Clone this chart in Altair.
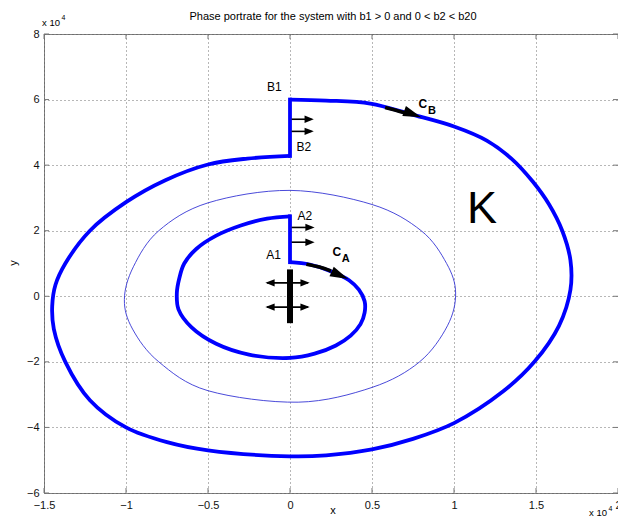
import altair as alt
import pandas as pd

TITLE = "Phase portrate for the system with b1 > 0 and 0 < b2 < b20"
X_TICKS = [-1.5, -1, -0.5, 0, 0.5, 1, 1.5, 2]
Y_TICKS = [-6, -4, -2, 0, 2, 4, 6, 8]
FONT = "Liberation Sans"

# trajectories, values in units of 10^4
outer_x = [0, 0.22, 0.49, 0.74, 1.0, 1.2, 1.35, 1.48, 1.58, 1.66, 1.71, 1.71, 1.64, 1.49, 1.3, 1.0,
           0.75, 0.5, 0.22, 0, -0.5, -0.75, -1.0, -1.22, -1.37, -1.44, -1.45, -1.43, -1.37, -1.22, -1.0,
           -0.76, -0.5, -0.26, 0]
outer_y = [6.0, 5.97, 5.88, 5.55, 5.18, 4.75, 4.2, 3.5, 2.8, 2.0, 1.1, 0.2, -0.9, -2.0, -2.9, -3.87,
           -4.35, -4.67, -4.85, -4.88, -4.7, -4.45, -4.0, -3.17, -2.0, -1.0, -0.3, 0.35, 1.0, 2.0, 2.87,
           3.54, 4.02, 4.2, 4.28]

inner_x = [0, 0.12, 0.24, 0.36, 0.42, 0.455, 0.455, 0.43, 0.37, 0.28, 0.15, 0.0, -0.25, -0.45, -0.6,
           -0.68, -0.69, -0.675, -0.645, -0.57, -0.45, -0.3, -0.14, 0]
inner_y = [1.04, 0.97, 0.78, 0.49, 0.2, -0.15, -0.5, -0.85, -1.2, -1.5, -1.75, -1.88, -1.78, -1.45, -0.95,
           -0.4, 0.1, 0.55, 1.0, 1.45, 1.85, 2.16, 2.37, 2.44]

ell_x = [0, 0.5, 0.8, 0.955, 1.01, 0.96, 0.79, 0.5, 0.05, -0.5, -0.8, -0.96, -1.01, -0.955, -0.8, -0.5]
ell_y = [3.23, 2.8, 2.0, 1.0, 0.1, -0.9, -2.0, -2.78, -3.23, -2.88, -2.0, -1.0, -0.1, 0.9, 2.0, 2.85]

# vertical jumps B2->B1 and A1->A2
jump_x = [0, 0]
jump_y = [4.28, 1.04]
jump_y2 = [6.0, 2.44]

# black arrow shafts along the curves (C_B, C_A)
cb_x = [0.58, 0.64, 0.71]
cb_y = [5.76, 5.68, 5.58]
ca_x = [0.10, 0.18, 0.25]
ca_y = [0.98, 0.89, 0.77]
big_head_x = [0.80, 0.355]
big_head_y = [5.46, 0.53]
big_head_ang = [20, 24]

# small horizontal arrows
sh_x = [0.01, 0.01, 0.01, 0.01, -0.14, -0.14]
sh_x2 = [0.13, 0.13, 0.13, 0.13, 0.11, 0.11]
sh_y = [5.40, 5.03, 2.10, 1.65, 0.41, -0.33]
small_head_x = [0.145, 0.145, 0.15, 0.15, -0.15, 0.12, -0.15, 0.12]
small_head_y = [5.40, 5.03, 2.10, 1.65, 0.41, 0.41, -0.33, -0.33]
small_head_ang = [0, 0, 0, 0, 180, 0, 180, 0]

# black bar at A1
bar_x = [0]
bar_y = [-0.82]
bar_y2 = [0.82]

# point labels
lab_text = ["B1", "B2", "A2", "A1"]
lab_x = [-0.096, 0.084, 0.09, -0.10]
lab_y = [6.37, 4.54, 2.44, 1.27]
sub_main = ["C", "C"]
sub_main_x = [0.81, 0.285]
sub_main_y = [5.88, 1.36]
sub_low = ["B", "A"]
sub_low_x = [0.865, 0.34]
sub_low_y = [5.66, 1.14]
K_text = ["K"]
K_x = [1.17]
K_y = [2.67]

W, H = 574, 459
XS = alt.Scale(domain=[-1.5, 2], nice=False, zero=False)
YS = alt.Scale(domain=[-6, 8], nice=False, zero=False)
XA = alt.Axis(values=X_TICKS, title=None, format="~g", labelPadding=6)
YA = alt.Axis(values=Y_TICKS, title=None, format="~g", labelPadding=5)


def X(f):
    return alt.X(f, type="quantitative", scale=XS, axis=XA)


def Y(f):
    return alt.Y(f, type="quantitative", scale=YS, axis=YA)


BLUE = "#0000ff"

ell_df = pd.DataFrame({"x": ell_x, "y": ell_y, "i": range(len(ell_x))})
ellipse = alt.Chart(ell_df).mark_line(color="#3535d5", strokeWidth=0.9, interpolate="cardinal-closed").encode(
    x=X("x"), y=Y("y"), order="i:Q")

outer_df = pd.DataFrame({"x": outer_x, "y": outer_y, "i": range(len(outer_x))})
outer = alt.Chart(outer_df).mark_line(color=BLUE, strokeWidth=3.8, interpolate="catmull-rom").encode(
    x=X("x"), y=Y("y"), order="i:Q")

inner_df = pd.DataFrame({"x": inner_x, "y": inner_y, "i": range(len(inner_x))})
inner = alt.Chart(inner_df).mark_line(color=BLUE, strokeWidth=3.8, interpolate="catmull-rom").encode(
    x=X("x"), y=Y("y"), order="i:Q")

jump_df = pd.DataFrame({"x": jump_x, "y": jump_y, "y2": jump_y2})
jumps = alt.Chart(jump_df).mark_rule(color=BLUE, strokeWidth=3.8, strokeCap="square").encode(
    x=X("x"), y=Y("y"), y2=alt.Y2("y2"))

cb_df = pd.DataFrame({"x": cb_x, "y": cb_y, "i": range(len(cb_x))})
cb_line = alt.Chart(cb_df).mark_line(color="black", strokeWidth=3.6, interpolate="catmull-rom").encode(
    x=X("x"), y=Y("y"), order="i:Q")
ca_df = pd.DataFrame({"x": ca_x, "y": ca_y, "i": range(len(ca_x))})
ca_line = alt.Chart(ca_df).mark_line(color="black", strokeWidth=3.6, interpolate="catmull-rom").encode(
    x=X("x"), y=Y("y"), order="i:Q")

bh_df = pd.DataFrame({"x": big_head_x, "y": big_head_y, "a": big_head_ang})
big_heads = alt.Chart(bh_df).mark_point(
    shape="M-2,-0.58L0,0L-2,0.58Z", filled=True, color="black", opacity=1, size=330, strokeWidth=0
).encode(x=X("x"), y=Y("y"), angle=alt.Angle("a:Q", scale=None))

sh_df = pd.DataFrame({"x": sh_x, "x2": sh_x2, "y": sh_y})
shafts = alt.Chart(sh_df).mark_rule(color="black", strokeWidth=1.6).encode(
    x=X("x"), x2=alt.X2("x2"), y=Y("y"))

smh_df = pd.DataFrame({"x": small_head_x, "y": small_head_y, "a": small_head_ang})
small_heads = alt.Chart(smh_df).mark_point(
    shape="M-2,-0.8L0,0L-2,0.8Z", filled=True, color="black", opacity=1, size=85, strokeWidth=0
).encode(x=X("x"), y=Y("y"), angle=alt.Angle("a:Q", scale=None))

bar_df = pd.DataFrame({"x": bar_x, "y": bar_y, "y2": bar_y2})
bar = alt.Chart(bar_df).mark_rule(color="black", strokeWidth=6).encode(
    x=X("x"), y=Y("y"), y2=alt.Y2("y2"))

lab_df = pd.DataFrame({"x": lab_x, "y": lab_y, "t": lab_text})
labels = alt.Chart(lab_df).mark_text(font=FONT, fontSize=12, color="black").encode(
    x=X("x"), y=Y("y"), text="t:N")

cm_df = pd.DataFrame({"x": sub_main_x, "y": sub_main_y, "t": sub_main})
cmain = alt.Chart(cm_df).mark_text(font=FONT, fontSize=12, fontWeight="bold", color="black").encode(
    x=X("x"), y=Y("y"), text="t:N")
cl_df = pd.DataFrame({"x": sub_low_x, "y": sub_low_y, "t": sub_low})
clow = alt.Chart(cl_df).mark_text(font=FONT, fontSize=11, fontWeight="bold", color="black").encode(
    x=X("x"), y=Y("y"), text="t:N")

k_df = pd.DataFrame({"x": K_x, "y": K_y, "t": K_text})
ktext = alt.Chart(k_df).mark_text(font=FONT, fontSize=45, color="black").encode(
    x=X("x"), y=Y("y"), text="t:N")

# inside tick marks on all four sides
xt_df = pd.DataFrame({"v": X_TICKS})
yt_df = pd.DataFrame({"v": Y_TICKS})
TC = "#777777"
tb = alt.Chart(xt_df).mark_rule(color=TC, strokeWidth=1).encode(x=X("v"), y=alt.value(H), y2=alt.value(H - 5))
tt = alt.Chart(xt_df).mark_rule(color=TC, strokeWidth=1).encode(x=X("v"), y=alt.value(0), y2=alt.value(5))
tl = alt.Chart(yt_df).mark_rule(color=TC, strokeWidth=1).encode(y=Y("v"), x=alt.value(0), x2=alt.value(5))
tr = alt.Chart(yt_df).mark_rule(color=TC, strokeWidth=1).encode(y=Y("v"), x=alt.value(W), x2=alt.value(W - 5))


def ptext(txt, px, py, size=11, align="center", angle=0, weight="normal"):
    df = pd.DataFrame({"t": [txt]})
    kw = dict(font=FONT, fontSize=size, color="black", align=align, baseline="middle", fontWeight=weight)
    if angle:
        kw["angle"] = angle
    return alt.Chart(df).mark_text(**kw).encode(text="t:N", x=alt.value(px), y=alt.value(py))


title = ptext(TITLE, 289, -17)
xlab = ptext("x", 289, 477)
ylab = ptext("y", -30, 229, angle=270)
e1 = ptext("x 10", -2, -11.5, size=9.5, align="left")
e1s = ptext("4", 17.5, -16, size=7, align="left")
e2 = ptext("x 10", 545, 479, size=9.5, align="left")
e2s = ptext("4", 564.5, 474.5, size=7, align="left")

chart = alt.layer(
    ellipse, outer, inner, jumps, cb_line, ca_line, big_heads, shafts, small_heads, bar,
    labels, cmain, clow, ktext, tb, tt, tl, tr, title, xlab, ylab, e1, e1s, e2, e2s
).properties(
    width=W, height=H,
    padding={"left": 36, "top": 26, "right": 0, "bottom": 24},
    autosize=alt.AutoSizeParams(type="none"),
).configure_view(
    stroke="#808080", strokeWidth=1
).configure_axis(
    labelFont=FONT, labelFontSize=11, labelColor="#111111",
    grid=True, gridColor="#555555", gridDash=[1, 3], gridWidth=1, gridOpacity=0.85,
    domain=False, ticks=False, labelFlush=False, labelOverlap=False, labelBound=False,
)

chart.save("out.html", embed_options={"renderer": "svg", "actions": False})
